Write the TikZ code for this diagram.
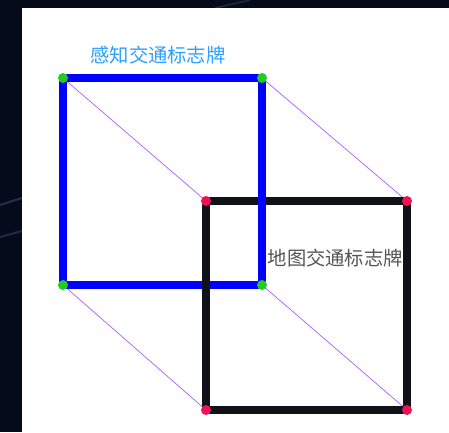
\documentclass[tikz,border=0pt]{standalone}
\usepackage{fontspec}
\newfontfamily\cjk{Noto Sans CJK SC}
\definecolor{bgdark}{HTML}{060B1C}
\definecolor{streak}{HTML}{3A4A66}
\definecolor{bluesq}{HTML}{0000FF}
\definecolor{blacksq}{HTML}{111118}
\definecolor{linkc}{HTML}{B05CFF}
\definecolor{greendot}{HTML}{22CC22}
\definecolor{reddot}{HTML}{EE1155}
\definecolor{bluetxt}{HTML}{2AA0FF}
\definecolor{graytxt}{HTML}{555555}
\tikzset{
  bluebar/.style={draw=bluesq,line width=8.5pt,line cap=round,line join=round},
  blackbar/.style={draw=blacksq,line width=8.5pt,line cap=round,line join=round},
  link/.style={draw=linkc,line width=0.7pt},
  gdot/.style={circle,fill=greendot,inner sep=0pt,minimum size=10pt},
  rdot/.style={circle,fill=reddot,inner sep=0pt,minimum size=10pt},
  lbl/.style={font=\cjk\fontsize{19.3}{22}\selectfont,inner sep=0pt}
}
\begin{document}
\begin{tikzpicture}[x=1pt,y=-1pt]
\useasboundingbox (0,0) rectangle (449,432);
\fill[bgdark] (0,0) rectangle (449,432);
\draw[streak,line width=2pt,opacity=0.6] (0,205) -- (22,198);
\draw[streak,line width=2pt,opacity=0.5] (0,237) -- (22,231);
\draw[streak,line width=1.5pt,opacity=0.5] (215,8) -- (250,0);
\fill[white] (22,8) rectangle (449,432);
% corner coordinates
\coordinate (a1) at (63,78);
\coordinate (a2) at (262,78);
\coordinate (a3) at (262,285);
\coordinate (a4) at (63,285);
\coordinate (b1) at (206,201);
\coordinate (b2) at (407,201);
\coordinate (b3) at (407,410);
\coordinate (b4) at (206,410);
% connectors
\draw[link] (a1) -- (b1);
\draw[link] (a2) -- (b2);
\draw[link] (a3) -- (b3);
\draw[link] (a4) -- (b4);
% squares
\draw[blackbar] (b1) -- (b2) -- (b3) -- (b4);
\draw[bluebar] (a4) -- (a1) -- (a2) -- (a3) -- cycle;
\draw[blackbar] (b4) -- (b1);
% dots
\foreach \n in {a1,a2,a3,a4} \node[gdot] at (\n) {};
\foreach \n in {b1,b2,b3,b4} \node[rdot] at (\n) {};
% labels
\node[lbl,text=bluetxt] (t1) at (158,55) {感知交通标志牌};
\node[lbl,text=graytxt,anchor=east] (t2) at (403,258) {地图交通标志牌};
\end{tikzpicture}
\end{document}
